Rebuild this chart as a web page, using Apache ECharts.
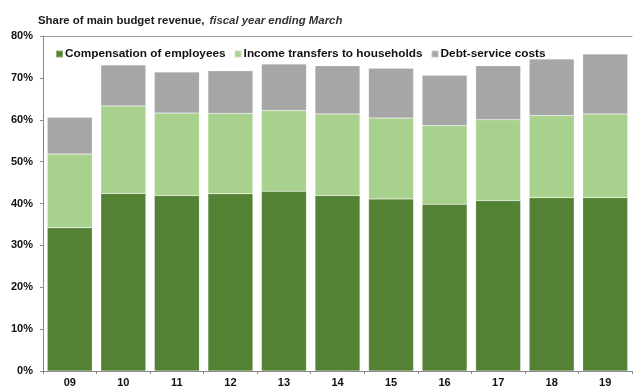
<!DOCTYPE html>
<html>
<head>
<meta charset="utf-8">
<title></title>
<script src="https://cdn.jsdelivr.net/npm/echarts@6/dist/echarts.min.js"></script>
<style>
html, body { margin: 0; padding: 0; background: #fff; }
#mainChart { width: 638px; height: 388px; }
</style>
</head>
<body>
<div id="mainChart"></div>
<script type="text/javascript">
// fiscal years ending March
var years = ['09', '10', '11', '12', '13', '14', '15', '16', '17', '18', '19'];
// stacked shares of main budget revenue, %
var compensation = [34.2, 42.4, 41.9, 42.3, 42.9, 41.9, 41.1, 39.8, 40.7, 41.4, 41.4];
var transfers = [17.6, 20.9, 19.7, 19.2, 19.3, 19.5, 19.3, 18.8, 19.3, 19.6, 20.0];
var debtService = [8.8, 9.8, 9.8, 10.2, 11.1, 11.5, 11.9, 12.0, 12.9, 13.5, 14.3];
var yTicks = [0, 10, 20, 30, 40, 50, 60, 70, 80];

var fontFam = '"Liberation Sans", Arial, sans-serif';
var chart = echarts.init(document.getElementById('mainChart'));

function barSeries(name, data, color) {
  return {
    name: name,
    type: 'bar',
    stack: 'total',
    data: data,
    barCategoryGap: '16%',
    itemStyle: { color: color, borderColor: 'rgba(255,255,255,0.35)', borderWidth: 0.5 }
  };
}

var option = {
  animation: false,
  title: {
    text: '{b|Share of main budget revenue,} {i|fiscal year ending March}',
    left: 33,
    top: 7,
    textStyle: {
      rich: {
        b: { fontFamily: fontFam, fontSize: 11.4, fontWeight: 'bold', color: '#1a1a1a' },
        i: { fontFamily: fontFam, fontSize: 11.4, fontStyle: 'italic', color: '#333' }
      }
    }
  },
  legend: {
    left: 50,
    top: 43,
    itemWidth: 7,
    itemHeight: 7,
    itemGap: 8,
    icon: 'rect',
    textStyle: { fontFamily: fontFam, fontSize: 11.8, fontWeight: 'bold', color: '#111', padding: [0, 0, 0, -3] },
    data: ['Compensation of employees', 'Income transfers to households', 'Debt-service costs']
  },
  grid: { left: 43, right: 6, top: 36, bottom: 16 },
  xAxis: [{
    type: 'category',
    data: years,
    axisLine: { lineStyle: { color: '#888' } },
    axisTick: { show: true, length: 3, lineStyle: { color: '#888' } },
    axisLabel: { fontFamily: fontFam, fontSize: 11, fontWeight: 'bold', color: '#111', margin: 6 }
  }, {
    type: 'category',
    data: years,
    position: 'top',
    axisLine: { show: true, lineStyle: { color: '#999' } },
    axisTick: { show: false },
    axisLabel: { show: false }
  }],
  yAxis: {
    type: 'value',
    min: 0,
    max: 80,
    interval: 10,
    axisLine: { show: true, lineStyle: { color: '#888' } },
    axisTick: { show: true, length: 3, lineStyle: { color: '#888' } },
    splitLine: { show: false },
    axisLabel: {
      fontFamily: fontFam, fontSize: 11, fontWeight: 'bold', color: '#111', margin: 10,
      formatter: function (v) { return yTicks.indexOf(v) >= 0 ? v + '%' : ''; }
    }
  },
  series: [
    barSeries('Compensation of employees', compensation, '#548235'),
    barSeries('Income transfers to households', transfers, '#a9d18e'),
    barSeries('Debt-service costs', debtService, '#a6a6a6')
  ]
};
chart.setOption(option);
</script>
</body>
</html>
